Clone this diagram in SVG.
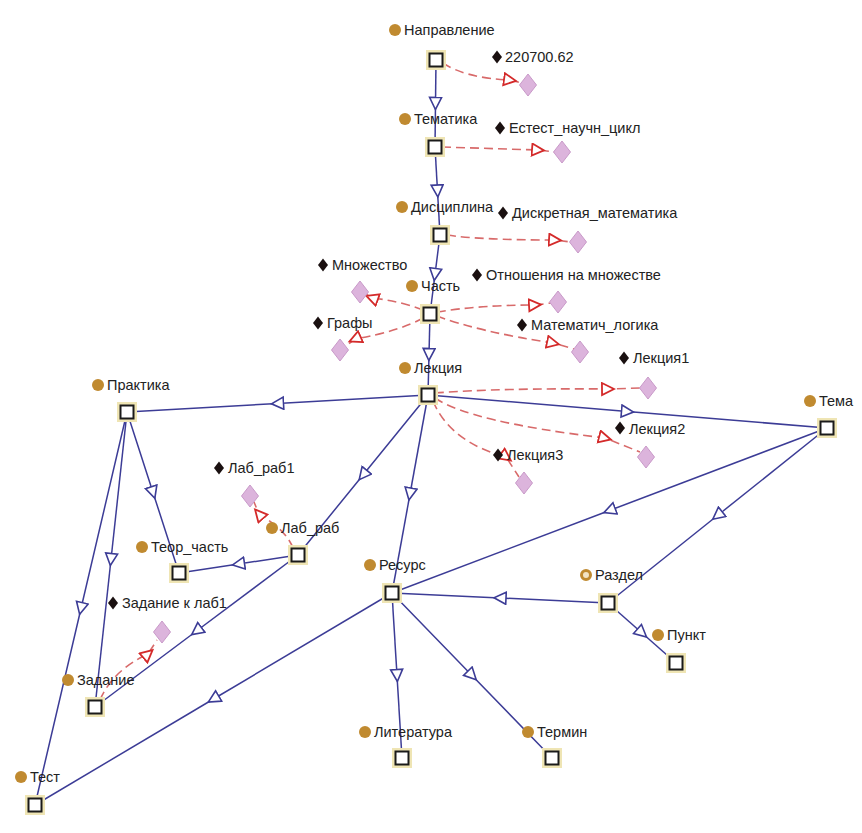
<svg xmlns="http://www.w3.org/2000/svg" width="862" height="833" viewBox="0 0 862 833">
<style>
text{font-family:"Liberation Sans",Arial,sans-serif;font-size:14.5px;fill:#222}
.b{stroke:#3c3c96;stroke-width:1.5;fill:none;marker-mid:url(#ab)}
.r{stroke:#d86a6a;stroke-width:1.6;stroke-dasharray:9,5;fill:none;marker-mid:url(#ar)}
.halo{fill:#efe5b4}
.sq{fill:#fff;stroke:#1a1a1a;stroke-width:2}
.dot{fill:#c08a30}
.bd{fill:#1a1010}
.pd{fill:#dcb4dc;stroke:#c99ac9;stroke-width:1}
</style>
<defs>
<marker id="ab" markerWidth="16" markerHeight="16" refX="7" refY="7" orient="auto" markerUnits="userSpaceOnUse"><path d="M1,1 L13,7 L1,13 Z" fill="#fff" stroke="#3c3c96" stroke-width="1.6"/></marker>
<marker id="ar" markerWidth="16" markerHeight="16" refX="7" refY="7" orient="auto" markerUnits="userSpaceOnUse"><path d="M1,1 L13,7 L1,13 Z" fill="#fff" stroke="#d42a2a" stroke-width="1.8"/></marker>
<g id="ind"><path d="M0,-11 L8.5,0 L0,11 L-8.5,0 Z" class="pd"/></g>
<g id="bdia"><path d="M0,-6.5 L5,0 L0,6.5 L-5,0 Z" class="bd"/></g>
<g id="box"><rect x="-10" y="-10" width="20" height="20" class="halo"/><rect x="-6.5" y="-6.5" width="13" height="13" class="sq"/></g>
</defs>
<rect width="862" height="833" fill="#fff"/>
<g id="connectors">
<path class="b" d="M436,60 L435.5,103.5 L435,147"/>
<path class="b" d="M435,147 L437.5,191 L440,235"/>
<path class="b" d="M440,235 L435,274.5 L430,314"/>
<path class="b" d="M430,314 L429,354.5 L428,395"/>
<path class="b" d="M428,395 L277.5,403.5 L127,412"/>
<path class="b" d="M428,395 L627.5,411.5 L827,428"/>
<path class="b" d="M428,395 L363,475 L298,555"/>
<path class="b" d="M428,395 L410,494 L392,593"/>
<path class="b" d="M127,412 L153,492.5 L179,573"/>
<path class="b" d="M127,412 L111,559.5 L95,707"/>
<path class="b" d="M127,412 L81,608.5 L35,805"/>
<path class="b" d="M298,555 L238.5,564 L179,573"/>
<path class="b" d="M298,555 L196.5,631 L95,707"/>
<path class="b" d="M827,428 L609.5,510.5 L392,593"/>
<path class="b" d="M827,428 L717.5,515.5 L608,603"/>
<path class="b" d="M392,593 L213.5,699 L35,805"/>
<path class="b" d="M608,603 L500,598 L392,593"/>
<path class="b" d="M608,603 L642,633 L676,663"/>
<path class="b" d="M392,593 L397,675.5 L402,758"/>
<path class="b" d="M392,593 L472,675.5 L552,758"/>
<path class="r" d="M443,63 Q465,78 510,80 L522,83"/>
<path class="r" d="M442,147 L538,150 L555,152"/>
<path class="r" d="M447,235 Q480,240 555,240 L571,242"/>
<path class="r" d="M423,310 Q400,301 372,298 L366,294"/>
<path class="r" d="M423,318 Q400,331 355,339 L346,346"/>
<path class="r" d="M437,312 Q480,305 535,305 L551,303"/>
<path class="r" d="M437,316 Q480,332 553,343 L574,349"/>
<path class="r" d="M435,393 Q500,388 608,389 L641,388"/>
<path class="r" d="M435,398 Q470,422 605,438 L640,452"/>
<path class="r" d="M433,401 Q450,442 506,457 L519,477"/>
<path class="r" d="M293,548 Q286,530 259,514 L254,502"/>
<path class="r" d="M100,700 Q113,670 148,654 L157,640"/>
</g>
<g id="n-napravlenie"><circle cx="395" cy="30" r="6" class="dot"/><text x="404" y="35">Направление</text><use href="#box" x="436" y="60"/></g>
<g id="n-tematika"><circle cx="405" cy="119" r="6" class="dot"/><text x="414" y="124">Тематика</text><use href="#box" x="435" y="147"/></g>
<g id="n-disciplina"><circle cx="402" cy="207" r="6" class="dot"/><text x="411" y="212">Дисциплина</text><use href="#box" x="440" y="235"/></g>
<g id="n-chast"><circle cx="412" cy="286" r="6" class="dot"/><text x="421" y="291">Часть</text><use href="#box" x="430" y="314"/></g>
<g id="n-lekciya"><circle cx="405" cy="368" r="6" class="dot"/><text x="414" y="373">Лекция</text><use href="#box" x="428" y="395"/></g>
<g id="n-praktika"><circle cx="98" cy="385" r="6" class="dot"/><text x="107" y="390">Практика</text><use href="#box" x="127" y="412"/></g>
<g id="n-tema"><circle cx="810" cy="401" r="6" class="dot"/><text x="819" y="406">Тема</text><use href="#box" x="827" y="428"/></g>
<g id="n-labrab"><circle cx="272" cy="528" r="6" class="dot"/><text x="281" y="533">Лаб_раб</text><use href="#box" x="298" y="555"/></g>
<g id="n-teor"><circle cx="142" cy="547" r="6" class="dot"/><text x="151" y="552">Теор_часть</text><use href="#box" x="179" y="573"/></g>
<g id="n-resurs"><circle cx="370" cy="565" r="6" class="dot"/><text x="379" y="570">Ресурс</text><use href="#box" x="392" y="593"/></g>
<g id="n-razdel"><circle cx="586" cy="575" r="4.5" fill="#f3e4c4" stroke="#c08a30" stroke-width="3"/><text x="595" y="580">Раздел</text><use href="#box" x="608" y="603"/></g>
<g id="n-punkt"><circle cx="658" cy="635" r="6" class="dot"/><text x="667" y="640">Пункт</text><use href="#box" x="676" y="663"/></g>
<g id="n-literatura"><circle cx="365" cy="732" r="6" class="dot"/><text x="374" y="737">Литература</text><use href="#box" x="402" y="758"/></g>
<g id="n-termin"><circle cx="528" cy="732" r="6" class="dot"/><text x="537" y="737">Термин</text><use href="#box" x="552" y="758"/></g>
<g id="n-zadanie"><circle cx="68" cy="680" r="6" class="dot"/><text x="77" y="685">Задание</text><use href="#box" x="95" y="707"/></g>
<g id="n-test"><circle cx="21" cy="777" r="6" class="dot"/><text x="30" y="782">Тест</text><use href="#box" x="35" y="805"/></g>
<g id="i-220700"><use href="#bdia" x="497" y="57"/><text x="505" y="62">220700.62</text><use href="#ind" x="528" y="85"/></g>
<g id="i-estest"><use href="#bdia" x="500" y="128"/><text x="509" y="133">Естест_научн_цикл</text><use href="#ind" x="562" y="152"/></g>
<g id="i-diskr"><use href="#bdia" x="503" y="213"/><text x="512" y="218">Дискретная_математика</text><use href="#ind" x="578" y="242"/></g>
<g id="i-mnozh"><use href="#bdia" x="323" y="265"/><text x="332" y="270">Множество</text><use href="#ind" x="360" y="292"/></g>
<g id="i-otnosh"><use href="#bdia" x="477" y="275"/><text x="486" y="280">Отношения на множестве</text><use href="#ind" x="558" y="302"/></g>
<g id="i-grafy"><use href="#bdia" x="318" y="323"/><text x="327" y="328">Графы</text><use href="#ind" x="340" y="350"/></g>
<g id="i-matlog"><use href="#bdia" x="522" y="325"/><text x="531" y="330">Математич_логика</text><use href="#ind" x="580" y="352"/></g>
<g id="i-lek1"><use href="#bdia" x="624" y="358"/><text x="633" y="363">Лекция1</text><use href="#ind" x="648" y="388"/></g>
<g id="i-lek2"><use href="#bdia" x="620" y="428"/><text x="629" y="434">Лекция2</text><use href="#ind" x="646" y="457"/></g>
<g id="i-lek3"><use href="#bdia" x="498" y="455"/><text x="507" y="460">Лекция3</text><use href="#ind" x="524" y="483"/></g>
<g id="i-lab1"><use href="#bdia" x="219" y="468"/><text x="228" y="473">Лаб_раб1</text><use href="#ind" x="250" y="496"/></g>
<g id="i-zad1"><use href="#bdia" x="113" y="603"/><text x="122" y="608">Задание к лаб1</text><use href="#ind" x="162" y="632"/></g>
</svg>
